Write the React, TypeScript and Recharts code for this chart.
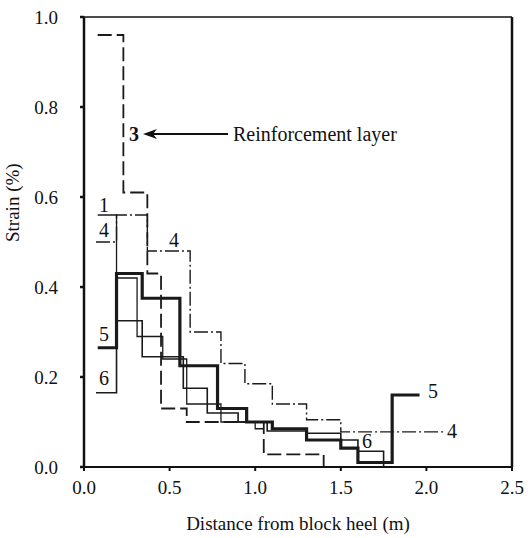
import { LineChart, Line, XAxis, YAxis, ReferenceLine } from 'recharts'

// distance from block heel (m) and strain (%) for each step series
const s1X = [0.08, 0.19, 0.31, 0.46, 0.6, 0.8, 1.0, 1.05]
const s1Y = [0.56, 0.42, 0.29, 0.24, 0.14, 0.1, 0.085, 0.085]

const s3X = [0.08, 0.23, 0.37, 0.45, 0.6, 0.8, 1.05, 1.4, 1.4]
const s3Y = [0.96, 0.61, 0.43, 0.13, 0.1, 0.1, 0.028, 0.028, 0]

const s4X = [0.07, 0.19, 0.37, 0.62, 0.8, 0.94, 1.1, 1.3, 1.5, 2.1]
const s4Y = [0.5, 0.56, 0.48, 0.3, 0.23, 0.185, 0.14, 0.105, 0.078, 0.078]

const s5X = [0.08, 0.19, 0.34, 0.56, 0.78, 0.95, 1.1, 1.3, 1.5, 1.6, 1.8, 1.96]
const s5Y = [0.265, 0.43, 0.375, 0.225, 0.13, 0.1, 0.085, 0.06, 0.042, 0.01, 0.16, 0.16]

const s6X = [0.07, 0.19, 0.34, 0.58, 0.72, 0.9, 1.07, 1.3, 1.5, 1.6, 1.75]
const s6Y = [0.165, 0.325, 0.245, 0.175, 0.12, 0.1, 0.08, 0.075, 0.06, 0.035, 0]

const xTicks = [0, 0.5, 1, 1.5, 2, 2.5]
const yTicks = [0, 0.2, 0.4, 0.6, 0.8, 1]

const toPoints = (xs: number[], ys: number[]) => xs.map((x, i) => ({ x, y: ys[i] }))

const series = [
  { key: 's1', data: toPoints(s1X, s1Y), width: 1.3, dash: undefined },
  { key: 's3', data: toPoints(s3X, s3Y), width: 1.8, dash: '14 5' },
  { key: 's4', data: toPoints(s4X, s4Y), width: 1.4, dash: '14 3 2 3' },
  { key: 's6', data: toPoints(s6X, s6Y), width: 1.6, dash: undefined },
  { key: 's5', data: toPoints(s5X, s5Y), width: 3.2, dash: undefined },
]

const font = '"Liberation Serif", "DejaVu Serif", serif'

export default function App() {
  return (
    <div style={{ position: 'absolute', left: 0, top: 0, background: '#fff', fontFamily: font }}>
      <LineChart width={528} height={538} margin={{ top: 17, right: 16, bottom: 4, left: 0 }}>
        <XAxis
          type="number"
          dataKey="x"
          domain={[0, 2.5]}
          ticks={xTicks}
          tickFormatter={(v: number) => v.toFixed(1)}
          height={67}
          stroke="#111"
          strokeWidth={2}
          tickSize={4}
          tickMargin={10}
          tick={{ fill: '#111', fontSize: 19, fontFamily: font }}
          allowDuplicatedCategory={false}
          label={{ value: 'Distance from block heel (m)', position: 'insideBottom', offset: 4, fill: '#111', fontSize: 19, fontFamily: font }}
        />
        <YAxis
          type="number"
          dataKey="y"
          domain={[0, 1]}
          ticks={yTicks}
          tickFormatter={(v: number) => v.toFixed(1)}
          width={84}
          stroke="#111"
          strokeWidth={2.5}
          tickSize={4}
          tickMargin={22}
          tick={{ fill: '#111', fontSize: 19, fontFamily: font }}
          label={{ value: 'Strain (%)', angle: -90, position: 'insideLeft', offset: 12, fill: '#111', fontSize: 19, fontFamily: font }}
        />
        <ReferenceLine y={1} stroke="#111" strokeWidth={1.5} />
        <ReferenceLine x={2.5} stroke="#111" strokeWidth={2.5} />
        {series.map((s) => (
          <Line
            key={s.key}
            data={s.data}
            dataKey="y"
            type="stepAfter"
            stroke="#1a1a1a"
            strokeWidth={s.width}
            strokeDasharray={s.dash}
            dot={false}
            isAnimationActive={false}
          />
        ))}
        <g fontFamily={font} fontSize={20} fill="#111">
          <text x={129} y={141} fontWeight="bold">3</text>
          <text x={233} y={141}>Reinforcement layer</text>
          <text x={99} y={212}>1</text>
          <text x={99} y={237}>4</text>
          <text x={169} y={247}>4</text>
          <text x={99} y={341}>5</text>
          <text x={99} y={385}>6</text>
          <text x={428} y={398}>5</text>
          <text x={447} y={438}>4</text>
          <text x={362} y={448}>6</text>
        </g>
        <line x1={228} y1={134} x2={150} y2={134} stroke="#111" strokeWidth={2} />
        <polygon points="143,134 157,129 153,134 157,139" fill="#111" />
      </LineChart>
    </div>
  )
}
